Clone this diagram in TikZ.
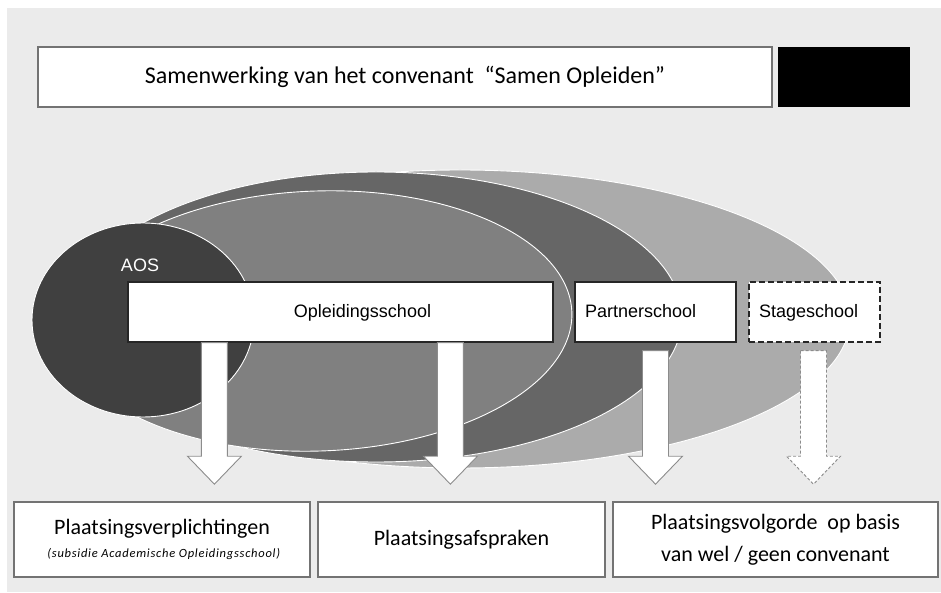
\documentclass[tikz,border=0pt]{standalone}
\usepackage{fontspec}
\setmainfont{Carlito}
\newfontfamily\arial{Liberation Sans}
\usetikzlibrary{calc}

% blokpijl van (start) naar de hoogte van (punt)
\newcommand{\blokpijl}[3][]{%
  \draw[pijl,#1] let \p1=(#2), \p2=(#3) in
    (\x1-13pt,\y1) -- (\x1+13pt,\y1) -- (\x1+13pt,\y2+28pt)
    -- (\x1+27pt,\y2+28pt) -- (\x1,\y2) -- (\x1-27pt,\y2+28pt)
    -- (\x1-13pt,\y2+28pt) -- cycle;}

\begin{document}
\begin{tikzpicture}[x=1pt,y=1pt,
    kader/.style={draw=black!55, line width=1.6pt, fill=white, inner sep=0pt, align=center},
    school/.style={draw=black!85, line width=1.2pt, fill=white, minimum height=60pt,
      inner xsep=10pt, text height=14pt, text depth=3pt, align=left,
      font=\arial\fontsize{18}{21}\selectfont},
    schil/.style={draw=white, line width=0.9pt},
    pijl/.style={draw=black!45, line width=0.9pt, fill=white}]

    \useasboundingbox (0,0) rectangle (941,592);

    % achtergrond
    \fill[white] (0,0) rectangle (941,592);
    \fill[black!8] (7,0) rectangle (941,584);

    % titel
    \node[kader, minimum width=734pt, minimum height=60pt, font=\fontsize{24}{28}\selectfont]
      (titel) at (405,515) {Samenwerking van het convenant \ “Samen Opleiden”};
    \node[fill=black, minimum width=132pt, minimum height=60pt, inner sep=0pt] (zwart) at (844,515) {};

    % de ellipsen, van groot naar klein
    \fill[schil, fill=black!33] (460,273) ellipse [x radius=390, y radius=149];
    \fill[schil, fill=black!60] (376,275) ellipse [x radius=306, y radius=145];
    \fill[schil, fill=black!50, rotate around={2:(318,271)}] (318,271) ellipse [x radius=254, y radius=130];
    \fill[schil, fill=black!75] (143,272) ellipse [x radius=111, y radius=97];
    \node[text=white, font=\arial\fontsize{18}{21}\selectfont] (aos) at (140,327) {AOS};

    % scholen
    \node[school, text width=405pt, align=center] (opl) at (340.5,280) {\hspace*{44pt}Opleidingsschool};
    \node[school, text width=141pt] (partner) at (655.5,280) {Partnerschool};
    \node[school, text width=111pt, dash pattern=on 6pt off 3pt] (stage) at (814.5,280) {Stageschool};

    % onderste kaders
    \node[kader, minimum width=296pt, minimum height=75pt, font=\fontsize{22}{26}\selectfont]
      (verpl) at (162,52.5) {Plaatsingsverplichtingen\\[-3pt]
      {\itshape\fontsize{12.5}{14}\selectfont\addfontfeature{LetterSpace=6}\ (subsidie Academische Opleidingsschool)}};
    \node[kader, minimum width=287pt, minimum height=75pt, font=\fontsize{22}{26}\selectfont]
      (afspr) at (461.5,52.5) {Plaatsingsafspraken};
    \node[kader, minimum width=325pt, minimum height=75pt, font=\fontsize{22}{32}\selectfont]
      (volg) at (775.5,52.5) {Plaatsingsvolgorde \ op basis\\van wel / geen convenant};

    % pijlen
    \blokpijl{$(opl.south west)+(87,0)$}{$(verpl.north)+(0,17)$}
    \blokpijl{$(opl.south west)+(323,0)$}{$(afspr.north)+(0,17)$}
    \blokpijl{$(partner.south)+(0,-8)$}{$(volg.north)+(0,17)$}
    \blokpijl[dash pattern=on 3pt off 2pt]{$(stage.south)+(-1,-8)$}{$(volg.north)+(0,17)$}
\end{tikzpicture}
\end{document}
